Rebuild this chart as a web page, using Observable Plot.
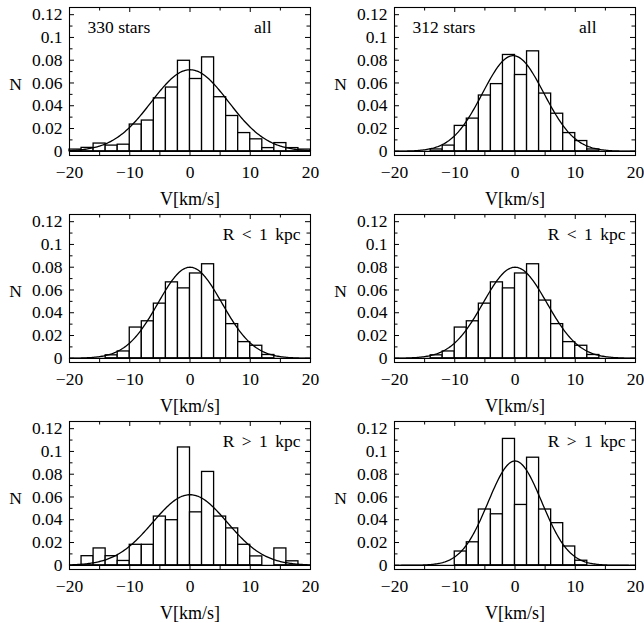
<!DOCTYPE html>
<html><head><meta charset="utf-8">
<script src="https://cdn.jsdelivr.net/npm/d3@7"></script>
<script src="https://cdn.jsdelivr.net/npm/@observablehq/plot@0.6"></script>
<style>
body{margin:0;background:#fff;}
#chart{position:relative;width:644px;height:623px;background:#fff;}
#chart svg{position:absolute;overflow:visible;font-family:"Liberation Serif","Times New Roman",serif !important;font-size:17.5px;}
#chart svg text{font-family:"Liberation Serif","Times New Roman",serif !important;}
</style></head><body><div id="chart"></div>
<script>
// ---- data ----
const binLeft = [-20,-18,-16,-14,-12,-10,-8,-6,-4,-2,0,2,4,6,8,10,12,14,16,18];
const binWidth = 2;
const xTicks = [-20,-10,0,10,20];
const xMinorTicks = [-15,-5,5,15];
const yTicks = [0,0.02,0.04,0.06,0.08,0.1,0.12];
const yMinorTicks = [0.01,0.03,0.05,0.07,0.09,0.11];
const xLabel = "V[km/s]";
const yLabel = "N";

const nAllLeft   = [0.0015,0.0030,0.0068,0.0050,0.0058,0.0235,0.0270,0.0465,0.0560,0.0795,0.0635,0.0825,0.0475,0.0310,0.0160,0.0105,0.0028,0.0072,0.0028,0.0015];
const nAllRight  = [0,0,0,0.0016,0.0050,0.0223,0.0287,0.0490,0.0590,0.0846,0.0670,0.0878,0.0507,0.0330,0.0160,0.0090,0.0016,0,0,0];
const nInnerLeft = [0,0,0,0.0026,0.0060,0.0270,0.0325,0.0480,0.0667,0.0614,0.0745,0.0826,0.0507,0.0300,0.0142,0.0110,0.0029,0,0,0];
const nInnerRight= [0,0,0,0.0026,0.0060,0.0270,0.0325,0.0480,0.0667,0.0614,0.0745,0.0826,0.0507,0.0300,0.0142,0.0110,0.0029,0,0,0];
const nOuterLeft = [0,0.0080,0.0148,0.0080,0.0038,0.0180,0.0180,0.0428,0.0396,0.1035,0.0465,0.0820,0.0428,0.0324,0.0180,0.0078,0,0.0148,0.0035,0];
const nOuterRight= [0,0,0,0,0,0.0121,0.0202,0.0490,0.0448,0.1110,0.0530,0.0945,0.0490,0.0370,0.0165,0.0040,0,0,0,0];

const fitAmp   = [0.0716,0.0840,0.0800,0.0800,0.0620,0.0916];
const fitMean  = [0,-0.3,0,0,0,0];
const fitSigma = [6.4,5.1,5.3,5.3,6.2,4.45];

const leftNotes  = ["330 stars","312 stars","","","",""];
const rightNotes = ["all","all","R < 1 kpc","R < 1 kpc","R > 1 kpc","R > 1 kpc"];
const seriesList = [nAllLeft,nAllRight,nInnerLeft,nInnerRight,nOuterLeft,nOuterRight];

// ---- layout ----
const W = 322, H = 207;
const M = {top:7, right:12, bottom:52, left:69};
const colX = [0, 324.5];
const rowY = [0, 207, 414];
const frameH = H - M.top - M.bottom;
const frameW = W - M.left - M.right;
const fmtX = d => d < 0 ? "\u2212" + Math.abs(d) : String(d);
const fmtY = d => String(+d.toFixed(2));
const FS = 17.5;

const chart = document.getElementById("chart");

seriesList.forEach((vals, i) => {
  const bars = binLeft.map((b, k) => ({x1: b, x2: b + binWidth, y: vals[k]})).filter(d => d.y > 0);
  const A = fitAmp[i], mu = fitMean[i], s = fitSigma[i];
  const curve = d3.range(-20, 20.0001, 0.2).map(x => ({x, y: A * Math.exp(-((x - mu) ** 2) / (2 * s * s))}));
  const tick = (vals2, len, side) => {
    if (side === "bottom") return Plot.ruleX(vals2, {x: d => d, insetTop: frameH - len, stroke: "#000", strokeWidth: 1});
    if (side === "top") return Plot.ruleX(vals2, {x: d => d, insetBottom: frameH - len, stroke: "#000", strokeWidth: 1});
    if (side === "left") return Plot.ruleY(vals2, {y: d => d, insetRight: frameW - len, stroke: "#000", strokeWidth: 1});
    return Plot.ruleY(vals2, {y: d => d, insetLeft: frameW - len, stroke: "#000", strokeWidth: 1});
  };
  const marks = [
    Plot.rectY(bars, {x1: "x1", x2: "x2", y: "y", fill: "#fff", stroke: "#000", strokeWidth: 1.3}),
    Plot.ruleY([0], {stroke: "#000", strokeWidth: 1.3}),
    Plot.line(curve, {x: "x", y: "y", stroke: "#000", strokeWidth: 1.3}),
    tick(xTicks, 5, "bottom"), tick(xTicks, 5, "top"),
    tick(xMinorTicks, 3.5, "bottom"), tick(xMinorTicks, 3.5, "top"),
    tick(yTicks, 5, "left"), tick(yTicks, 5, "right"),
    tick(yMinorTicks, 3.5, "left"), tick(yMinorTicks, 3.5, "right"),
    Plot.frame({stroke: "#000", strokeWidth: 1.1}),
    Plot.axisX({ticks: xTicks, tickSize: 0, tickPadding: 10, tickFormat: fmtX, label: null, fontSize: FS}),
    Plot.axisY({ticks: yTicks, tickSize: 0, tickPadding: 7, tickFormat: fmtY, label: null, fontSize: FS}),
    Plot.text([xLabel], {text: d => d, frameAnchor: "bottom", dy: 44, lineAnchor: "middle", fontSize: 18, letterSpacing: 1.2}),
    Plot.text([yLabel], {text: d => d, frameAnchor: "left", dx: -54, dy: 3, lineAnchor: "middle", textAnchor: "middle", fontSize: FS}),
  ];
  if (leftNotes[i]) marks.push(Plot.text([leftNotes[i]], {text: d => d, frameAnchor: "top-left", dx: 18, dy: 20, lineAnchor: "middle", textAnchor: "start", fontSize: FS}));
  if (rightNotes[i]) marks.push(Plot.text([rightNotes[i]], {text: d => d, frameAnchor: "top-right", dx: rightNotes[i] === "all" ? -39 : -10, dy: 20, lineAnchor: "middle", textAnchor: "end", fontSize: FS}));

  const svg = Plot.plot({
    width: W, height: H,
    marginTop: M.top, marginRight: M.right, marginBottom: M.bottom, marginLeft: M.left,
    x: {domain: [-20, 20]},
    y: {domain: [-0.0037, 0.1263]},
    style: {background: "transparent", color: "#000"},
    marks
  });
  svg.querySelectorAll("text").forEach(t => { if (t.textContent.includes("kpc")) t.style.wordSpacing = "3px"; });
  svg.style.left = colX[i % 2] + "px";
  svg.style.top = rowY[Math.floor(i / 2)] + "px";
  chart.appendChild(svg);
});
</script></body></html>
